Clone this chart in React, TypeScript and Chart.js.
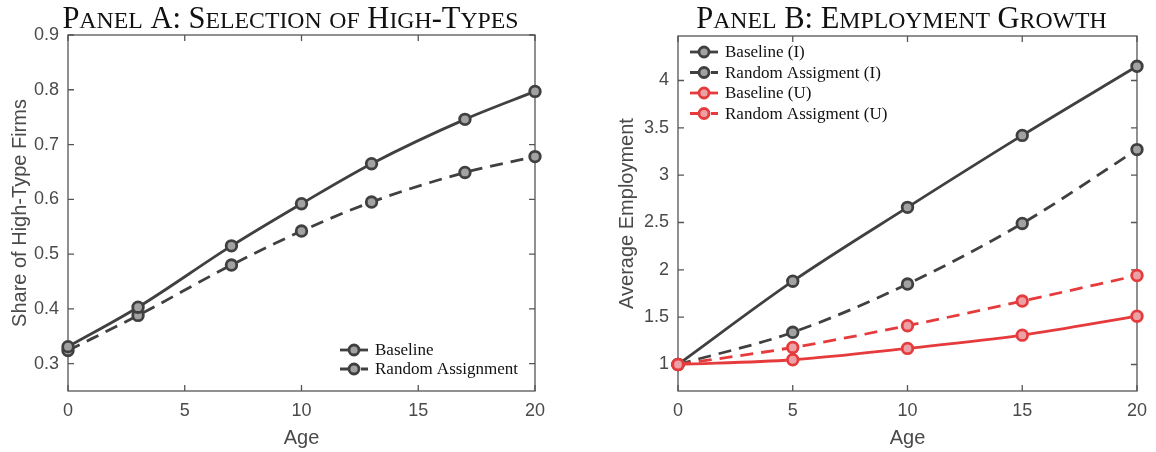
import React, { useEffect, useRef } from "react";
import { Chart, registerables } from "chart.js";
Chart.register(...registerables);

// ---------- Data ----------
const agesA = [0, 3, 7, 10, 13, 17, 20];
const baselineA = [0.331, 0.403, 0.515, 0.592, 0.665, 0.746, 0.797];
const randomA = [0.324, 0.388, 0.48, 0.542, 0.595, 0.649, 0.678];
const yTicksA = [0.3, 0.4, 0.5, 0.6, 0.7, 0.8, 0.9];

const agesB = [0, 5, 10, 15, 20];
const baselineI = [1, 1.88, 2.66, 3.42, 4.15];
const randomI = [1, 1.34, 1.85, 2.49, 3.27];
const baselineU = [1, 1.05, 1.17, 1.31, 1.51];
const randomU = [1, 1.18, 1.41, 1.67, 1.94];
const yTicksB = [1, 1.5, 2, 2.5, 3, 3.5, 4];

const xTicks = [0, 5, 10, 15, 20];

// ---------- Styles ----------
const GRAY = "#404040";
const GRAY_FILL = "#a2a2a2";
const RED = "#e63b3d";
const RED_FILL = "#eba2a6";
const AXIS = "#555555";
const TEXT = "#4a4a4a";
const SANS = "'Liberation Sans', Arial, sans-serif";
const SERIF = "'Liberation Serif', 'Times New Roman', serif";

function makeDataset(label: string, xs: number[], ys: number[], color: string, fill: string, dashed: boolean, order: number) {
  return {
    label,
    data: xs.map((x, i) => ({ x, y: ys[i] })),
    borderColor: color,
    backgroundColor: fill,
    borderWidth: 2.8,
    borderDash: dashed ? [13, 8] : [],
    pointRadius: 5.3,
    pointHoverRadius: 5.3,
    pointBorderWidth: 2.8,
    pointBackgroundColor: fill,
    pointBorderColor: color,
    cubicInterpolationMode: "monotone" as const,
    clip: false as any,
    fill: false,
    order,
  };
}

function drawSmallCaps(ctx: CanvasRenderingContext2D, text: string, cx: number, baseline: number, size: number) {
  const parts: { ch: string; size: number; w: number }[] = [];
  for (const ch of text) {
    const lower = ch !== ch.toUpperCase();
    parts.push({ ch: lower ? ch.toUpperCase() : ch, size: lower ? size * 0.78 : size, w: 0 });
  }
  let total = 0;
  for (const p of parts) {
    ctx.font = `${p.size}px ${SERIF}`;
    p.w = ctx.measureText(p.ch).width;
    total += p.w;
  }
  let x = cx - total / 2;
  ctx.textAlign = "left";
  ctx.textBaseline = "alphabetic";
  ctx.fillStyle = "#111";
  for (const p of parts) {
    ctx.font = `${p.size}px ${SERIF}`;
    ctx.fillText(p.ch, x, baseline);
    x += p.w;
  }
}

const panelPlugin = {
  id: "panel",
  beforeDatasetsDraw(chart: any) {
    const { ctx, chartArea, scales } = chart;
    const { left, right, top, bottom } = chartArea;
    ctx.save();
    ctx.strokeStyle = AXIS;
    ctx.lineWidth = 1.3;
    ctx.strokeRect(left, top, right - left, bottom - top);
    const L = 6;
    ctx.beginPath();
    for (const t of scales.x.ticks) {
      const px = scales.x.getPixelForValue(t.value);
      ctx.moveTo(px, bottom);
      ctx.lineTo(px, bottom - L);
      ctx.moveTo(px, top);
      ctx.lineTo(px, top + L);
    }
    for (const t of scales.y.ticks) {
      const py = scales.y.getPixelForValue(t.value);
      ctx.moveTo(left, py);
      ctx.lineTo(left + L, py);
      ctx.moveTo(right, py);
      ctx.lineTo(right - L, py);
    }
    ctx.stroke();
    ctx.restore();
  },
  afterDraw(chart: any, _args: any, opts: any) {
    const { ctx, chartArea } = chart;
    ctx.save();
    // title
    drawSmallCaps(ctx, opts.title, (chartArea.left + chartArea.right) / 2 + (opts.titleShift || 0), opts.titleY, opts.titleSize);
    // legend
    const lx = opts.legendX;
    let ly = opts.legendY;
    chart.data.datasets.forEach((ds: any) => {
      ctx.strokeStyle = ds.borderColor;
      ctx.lineWidth = ds.borderWidth;
      ctx.setLineDash(ds.borderDash || []);
      ctx.beginPath();
      ctx.moveTo(lx, ly);
      ctx.lineTo(lx + 28, ly);
      ctx.stroke();
      ctx.setLineDash([]);
      ctx.beginPath();
      ctx.arc(lx + 14, ly, 5, 0, Math.PI * 2);
      ctx.fillStyle = ds.pointBackgroundColor;
      ctx.fill();
      ctx.lineWidth = ds.pointBorderWidth;
      ctx.strokeStyle = ds.pointBorderColor;
      ctx.stroke();
      ctx.fillStyle = "#111";
      ctx.font = `17px ${SERIF}`;
      ctx.textAlign = "left";
      ctx.textBaseline = "middle";
      ctx.fillText(ds.label, lx + 35, ly + 1);
      ly += opts.legendStep;
    });
    ctx.restore();
  },
};

function makeConfig(p: {
  datasets: any[];
  yTicks: number[];
  yMin: number;
  yMax: number;
  yTitle: string;
  yWidth: number;
  yTitlePad: number;
  padding: any;
  panel: any;
}): any {
  return {
    type: "line",
    data: { datasets: p.datasets },
    plugins: [panelPlugin],
    options: {
      animation: false,
      responsive: false,
      devicePixelRatio: 1,
      layout: { padding: p.padding },
      plugins: {
        legend: { display: false },
        tooltip: { enabled: false },
        title: { display: false },
        panel: p.panel,
      },
      scales: {
        x: {
          type: "linear",
          min: 0,
          max: 20,
          afterBuildTicks: (s: any) => {
            s.ticks = xTicks.map((v) => ({ value: v }));
          },
          afterFit: (s: any) => {
            s.height = 61;
          },
          grid: { display: false, drawTicks: false },
          border: { display: false },
          ticks: {
            padding: 9,
            color: TEXT,
            font: { family: SANS, size: 18 },
            maxRotation: 0,
            callback: (v: any) => String(v),
          },
          title: {
            display: true,
            text: "Age",
            color: TEXT,
            font: { family: SANS, size: 20 },
            padding: { top: 0, bottom: 2 },
          },
        },
        y: {
          type: "linear",
          min: p.yMin,
          max: p.yMax,
          afterBuildTicks: (s: any) => {
            s.ticks = p.yTicks.map((v) => ({ value: v }));
          },
          afterFit: (s: any) => {
            s.width = p.yWidth;
          },
          grid: { display: false, drawTicks: false },
          border: { display: false },
          ticks: {
            padding: 9,
            color: TEXT,
            font: { family: SANS, size: 18 },
            callback: (v: any) => String(v),
          },
          title: {
            display: true,
            text: p.yTitle,
            color: TEXT,
            font: { family: SANS, size: 20 },
            padding: { top: p.yTitlePad, bottom: 0 },
          },
        },
      },
    },
  };
}

function ChartCanvas({ config, width, height }: { config: any; width: number; height: number }) {
  const ref = useRef<HTMLCanvasElement | null>(null);
  useEffect(() => {
    if (!ref.current) return;
    const chart = new Chart(ref.current, config);
    return () => chart.destroy();
  }, []);
  return <canvas ref={ref} width={width} height={height} style={{ display: "block", width, height }} />;
}

export default function App() {
  const configA = makeConfig({
    datasets: [
      makeDataset("Baseline", agesA, baselineA, GRAY, GRAY_FILL, false, 1),
      makeDataset("Random Assignment", agesA, randomA, GRAY, GRAY_FILL, true, 2),
    ],
    yTicks: yTicksA,
    yMin: 0.25,
    yMax: 0.9,
    yTitle: "Share of High-Type Firms",
    yWidth: 68,
    yTitlePad: 8,
    padding: { left: 0, top: 35, right: 43, bottom: 0 },
    panel: {
      title: "Panel A: Selection of High-Types",
      titleY: 28,
      titleSize: 30.5,
      titleShift: -11,
      legendX: 340,
      legendY: 350,
      legendStep: 19,
    },
  });
  const configB = makeConfig({
    datasets: [
      makeDataset("Baseline (I)", agesB, baselineI, GRAY, GRAY_FILL, false, 4),
      makeDataset("Random Assigment (I)", agesB, randomI, GRAY, GRAY_FILL, true, 3),
      makeDataset("Baseline (U)", agesB, baselineU, RED, RED_FILL, false, 2),
      makeDataset("Random Assigment (U)", agesB, randomU, RED, RED_FILL, true, 1),
    ],
    yTicks: yTicksB,
    yMin: 0.72,
    yMax: 4.47,
    yTitle: "Average Employment",
    yWidth: 100,
    yTitlePad: 37,
    padding: { left: 0, top: 36, right: 16, bottom: 0 },
    panel: {
      title: "Panel B: Employment Growth",
      titleY: 28,
      titleSize: 30.5,
      titleShift: -6,
      legendX: 112,
      legendY: 52,
      legendStep: 20.5,
    },
  });
  return (
    <div style={{ position: "absolute", left: 0, top: 0, width: 1156, height: 452, display: "flex", background: "#fff" }}>
      <ChartCanvas config={configA} width={578} height={452} />
      <ChartCanvas config={configB} width={578} height={452} />
    </div>
  );
}
